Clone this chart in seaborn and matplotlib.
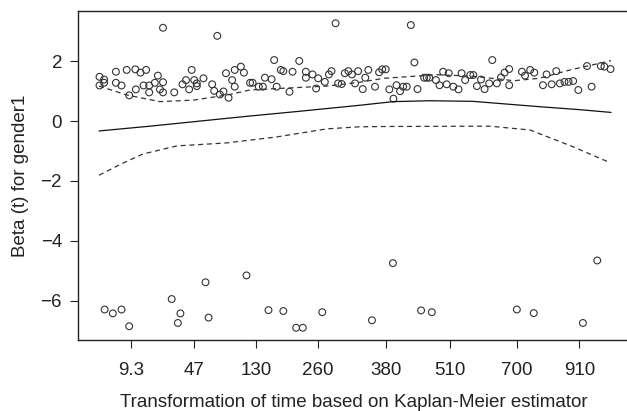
import pandas as pd
import matplotlib
matplotlib.use('Agg')
import matplotlib.pyplot as plt
import seaborn as sns

# KM-transformed time (0-1 scale) and scaled Schoenfeld residuals for gender1
resid_x = [0.001, 0.001, 0.010, 0.010, 0.033, 0.033, 0.044, 0.054, 0.059, 0.071,
           0.072, 0.081, 0.087, 0.092, 0.098, 0.098, 0.109, 0.115, 0.119, 0.125,
           0.125, 0.125, 0.147, 0.163, 0.170, 0.176, 0.181, 0.186, 0.191, 0.191,
           0.204, 0.221, 0.225, 0.231, 0.236, 0.243, 0.248, 0.253, 0.260, 0.265,
           0.265, 0.277, 0.283, 0.295, 0.300, 0.312, 0.320, 0.324, 0.337, 0.342,
           0.347, 0.355, 0.360, 0.372, 0.378, 0.391, 0.404, 0.404, 0.417, 0.424,
           0.428, 0.441, 0.449, 0.454, 0.462, 0.467, 0.474, 0.480, 0.487, 0.494,
           0.500, 0.506, 0.515, 0.520, 0.526, 0.539, 0.547, 0.553, 0.560, 0.567,
           0.575, 0.581, 0.588, 0.594, 0.601, 0.609, 0.616, 0.622, 0.635, 0.640,
           0.645, 0.658, 0.665, 0.672, 0.683, 0.679, 0.692, 0.702, 0.708, 0.715,
           0.725, 0.731, 0.738, 0.746, 0.753, 0.762, 0.768, 0.777, 0.785, 0.792,
           0.801, 0.801, 0.826, 0.832, 0.842, 0.850, 0.867, 0.874, 0.884, 0.893,
           0.900, 0.909, 0.917, 0.926, 0.936, 0.953, 0.962, 0.980, 0.987, 0.999,
           # low residuals
           0.011, 0.027, 0.044, 0.059, 0.142, 0.154, 0.159, 0.208, 0.214, 0.288,
           0.331, 0.360, 0.385, 0.398, 0.436, 0.533, 0.574, 0.629, 0.650, 0.816,
           0.849, 0.945, 0.973]
resid_y = [1.48, 1.19, 1.39, 1.28, 1.65, 1.28, 1.19, 1.71, 0.86, 1.73,
           1.06, 1.62, 1.19, 1.71, 1.19, 0.96, 1.28, 1.52, 1.06, 1.30,
           0.96, 3.12, 0.96, 1.23, 1.37, 1.06, 1.71, 1.37, 1.26, 1.17,
           1.43, 1.23, 1.01, 2.85, 0.89, 0.99, 1.60, 0.78, 1.37, 1.71,
           1.15, 1.82, 1.62, 1.28, 1.28, 1.15, 1.15, 1.45, 1.40, 2.04,
           1.15, 1.71, 1.67, 0.98, 1.65, 2.01, 1.65, 1.45, 1.56, 1.09,
           1.43, 1.31, 1.56, 1.67, 3.27, 1.26, 1.24, 1.60, 1.67, 1.56,
           1.26, 1.67, 1.07, 1.45, 1.71, 1.15, 1.63, 1.73, 1.73, 1.06,
           0.75, 1.20, 1.00, 1.15, 1.15, 3.21, 1.96, 1.07, 1.45, 1.45,
           1.45, 1.37, 1.20, 1.65, 1.60, 1.23, 1.15, 1.06, 1.60, 1.37,
           1.54, 1.54, 1.17, 1.39, 1.07, 1.26, 2.04, 1.26, 1.46, 1.62,
           1.74, 1.20, 1.65, 1.52, 1.71, 1.62, 1.20, 1.56, 1.23, 1.67,
           1.26, 1.31, 1.31, 1.34, 1.04, 1.84, 1.15, 1.84, 1.82, 1.74,
           -6.30, -6.43, -6.30, -6.86, -5.95, -6.75, -6.43, -5.39, -6.57, -5.16,
           -6.32, -6.35, -6.91, -6.91, -6.39, -6.66, -4.75, -6.33, -6.39, -6.30,
           -6.42, -6.75, -4.66]

# smoothed beta(t) and its confidence band
fit_x = [0.0, 0.10, 0.197, 0.295, 0.393, 0.510, 0.574, 0.646, 0.730, 0.861, 0.940, 1.0]
fit_y = [-0.33, -0.17, 0.0, 0.17, 0.33, 0.53, 0.65, 0.68, 0.66, 0.48, 0.38, 0.29]
upper_x = [0.0, 0.055, 0.119, 0.184, 0.25, 0.295, 0.35, 0.445, 0.51, 0.556, 0.66, 0.73, 0.81, 0.86, 0.92, 1.0]
upper_y = [1.17, 0.87, 0.65, 0.70, 0.87, 1.04, 1.09, 1.17, 1.30, 1.43, 1.55, 1.50, 1.35, 1.43, 1.71, 2.02]
lower_x = [0.0, 0.045, 0.086, 0.152, 0.249, 0.347, 0.445, 0.51, 0.568, 0.764, 0.842, 0.926, 0.998]
lower_y = [-1.81, -1.42, -1.10, -0.83, -0.73, -0.53, -0.26, -0.19, -0.18, -0.17, -0.30, -0.86, -1.39]

tick_pos = [0.0625, 0.186, 0.307, 0.428, 0.561, 0.686, 0.816, 0.938]
tick_labels = ['9.3', '47', '130', '260', '380', '510', '700', '910']

sns.set_theme(style='white')
plt.rcParams['font.family'] = ['Liberation Sans', 'DejaVu Sans']

fig = plt.figure(figsize=(6.27, 4.11), dpi=100)
ax = fig.add_axes([0.1244, 0.1727, 0.8804, 0.8005])

sns.scatterplot(x=resid_x, y=resid_y, ax=ax, marker='o', s=24,
                facecolor='none', edgecolor='#333333', linewidth=0.8)
sns.lineplot(x=fit_x, y=fit_y, ax=ax, color='#111111', linewidth=0.9)
sns.lineplot(x=upper_x, y=upper_y, ax=ax, color='#333333', linewidth=0.9, linestyle=(0, (4, 3)))
sns.lineplot(x=lower_x, y=lower_y, ax=ax, color='#333333', linewidth=0.9, linestyle=(0, (4, 3)))

ax.set_xlim(-0.041, 1.037)
ax.set_ylim(-7.32, 3.68)
ax.set_xticks(tick_pos)
ax.set_xticklabels(tick_labels)
ax.set_yticks([-6, -4, -2, 0, 2])
ax.set_yticklabels(['\u22126', '\u22124', '\u22122', '0', '2'])

for s in ax.spines.values():
    s.set_color('#222222')
    s.set_linewidth(1.0)

ax.tick_params(axis='both', direction='out', length=5.5, width=0.8, color='#222222',
               labelsize=13.5, labelcolor='#222222', left=True, bottom=True)
ax.tick_params(axis='x', pad=10)
ax.tick_params(axis='y', pad=6)
ax.set_xlabel('Transformation of time based on Kaplan-Meier estimator', fontsize=13.5,
              color='#222222', labelpad=11)
ax.set_ylabel('Beta (t) for gender1', fontsize=13.5, color='#222222', labelpad=8)

fig.savefig('out.png', dpi=100)
